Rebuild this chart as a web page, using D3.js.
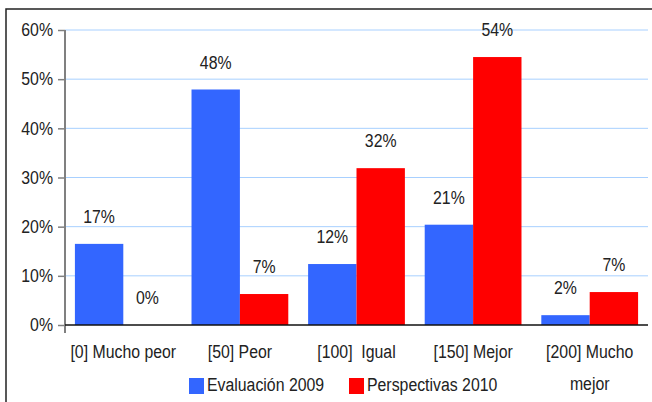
<!DOCTYPE html>
<html><head><meta charset="utf-8">
<script src="https://cdn.jsdelivr.net/npm/d3@7"></script>
<style>body{margin:0;background:#fff}svg{display:block}</style>
</head><body>
<svg id="c" width="652" height="402"></svg>
<script>
const categories = ["[0] Mucho peor", "[50] Peor", "[100]  Igual", "[150] Mejor", "[200] Mucho|mejor"];
const seriesNames = ["Evaluación 2009", "Perspectivas 2010"];
const evaluacion2009 = [16.5, 47.9, 12.4, 20.4, 2.0];
const perspectivas2010 = [0, 6.3, 31.9, 54.5, 6.7];
const valueLabels = [["17%","48%","12%","21%","2%"],["0%","7%","32%","54%","7%"]];
const yTicks = [0,10,20,30,40,50,60];
const colors = ["#3366ff", "#ff0000"];
const font = "'Liberation Sans Narrow','Arial Narrow','Liberation Sans',sans-serif";
const squeeze = 0.88;

const svg = d3.select("#c");
svg.append("rect").attr("x",6).attr("y",9).attr("width",660).attr("height",420)
  .attr("fill","#fff").attr("stroke","#222").attr("stroke-width",1.5);

const L=65, R=648, T=30, B=325;
const x = d3.scaleBand().domain(categories).range([L,R]).paddingInner(0.17).paddingOuter(0.085);
const xs = d3.scaleBand().domain([0,1]).range([0,x.bandwidth()]);
const y = d3.scaleLinear().domain([0,60]).range([B,T]);

svg.append("g").selectAll("line").data(yTicks.slice(1)).join("line")
  .attr("x1",L).attr("x2",R).attr("y1",d=>y(d)).attr("y2",d=>y(d))
  .attr("stroke","#a8d0ff").attr("stroke-width",1);

const series = [evaluacion2009, perspectivas2010];
series.forEach((s,si)=>{
  svg.append("g").selectAll("rect").data(s).join("rect")
    .attr("x",(d,i)=>x(categories[i])+xs(si))
    .attr("width",xs.bandwidth())
    .attr("y",d=>y(d)).attr("height",d=>B-y(d))
    .attr("fill",colors[si]);
  svg.append("g").selectAll("text").data(s).join("text")
    .attr("class","sq")
    .attr("x",(d,i)=>x(categories[i])+xs(si)+xs.bandwidth()/2)
    .attr("y",d=>y(d)-27).attr("dy","0.35em")
    .attr("text-anchor","middle").attr("font-family",font).attr("font-size",18)
    .attr("fill","#222").text((d,i)=>valueLabels[si][i]);
});

const yAxis = d3.axisLeft(y).tickValues(yTicks).tickFormat(d=>d+"%").tickSize(7).tickPadding(5);
const gy = svg.append("g").attr("transform",`translate(${L},0)`).call(yAxis);
gy.select(".domain").remove();
gy.selectAll(".tick line").attr("stroke","#808080").attr("stroke-width",1.5);
gy.selectAll(".tick text").attr("class","sq").attr("font-family",font).attr("font-size",18).attr("fill","#222");
svg.append("line").attr("x1",L).attr("x2",L).attr("y1",T).attr("y2",B+8)
  .attr("stroke","#808080").attr("stroke-width",2);
svg.append("line").attr("x1",L).attr("x2",R).attr("y1",B).attr("y2",B)
  .attr("stroke","#111").attr("stroke-width",1.5);

const xAxis = d3.axisBottom(x).tickSize(0).tickPadding(0);
const gx = svg.append("g").attr("transform",`translate(0,${B})`).call(xAxis);
gx.select(".domain").remove();
gx.selectAll(".tick text").each(function(d){
  const t = d3.select(this).text("").attr("font-family",font).attr("font-size",18)
    .attr("fill","#222").attr("y",0).attr("dy",null);
  d.split("|").forEach((ln,k)=>{
    t.append("tspan").attr("class","sq").attr("x",0).attr("y",27+k*32).attr("dy","0.35em")
      .style("white-space","pre").text(ln);
  });
});

const legX = [189, 349];
const lg = svg.append("g");
seriesNames.forEach((n,i)=>{
  lg.append("rect").attr("x",legX[i]).attr("y",378).attr("width",15).attr("height",16).attr("fill",colors[i]);
  lg.append("text").attr("class","sq").attr("x",legX[i]+18).attr("y",385).attr("dy","0.35em")
    .attr("font-family",font).attr("font-size",18).attr("fill","#222").text(n);
});

// horizontally condense text to mimic a narrow typeface
svg.selectAll(".sq").each(function(){
  const len = this.getComputedTextLength();
  if (len > 0) d3.select(this).attr("textLength", len*squeeze).attr("lengthAdjust","spacingAndGlyphs");
});
</script>
</body></html>
